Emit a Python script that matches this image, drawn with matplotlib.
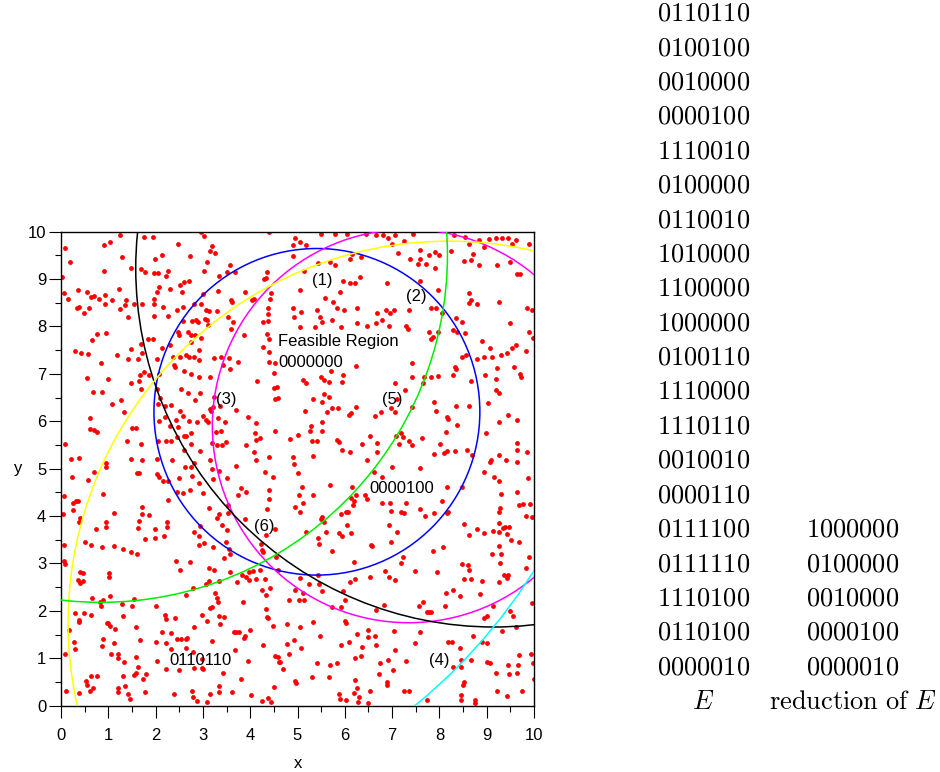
import matplotlib.pyplot as plt
from matplotlib.patches import Circle
from matplotlib.ticker import MultipleLocator

plt.rcParams['font.family'] = ['Liberation Sans', 'DejaVu Sans']
plt.rcParams['mathtext.fontset'] = 'cm'

# random sample points
dots_nw = [
    (1.24, 9.93), (1.75, 9.88), (1.94, 9.88), (2.96, 9.99), (3.02, 9.91), (4.40, 9.99), (0.08, 9.66), (0.90, 9.71), (1.04, 9.79), (2.47, 9.74),
    (3.20, 9.70), (3.16, 9.59), (3.25, 9.56), (2.13, 9.51), (1.99, 9.42), (1.30, 9.46), (2.73, 9.49), (0.18, 9.35), (3.08, 9.35), (0.03, 9.04),
    (0.91, 9.16), (1.49, 9.23), (1.70, 9.21), (1.78, 9.15), (1.96, 9.12), (2.06, 9.12), (2.27, 9.18), (2.23, 9.06), (3.02, 9.16), (3.35, 9.06),
    (3.50, 9.14), (3.68, 9.14), (3.57, 9.30), (2.51, 8.87), (2.61, 8.93), (2.70, 8.96), (2.08, 8.84), (2.02, 8.73), (2.30, 8.80), (2.56, 8.73),
    (0.35, 8.76), (0.56, 8.73), (0.64, 8.62), (0.06, 8.70), (1.23, 8.79), (0.14, 8.59), (3.01, 8.68), (3.32, 8.75), (3.89, 8.73), (0.70, 8.65),
    (0.81, 8.59), (0.93, 8.66), (1.08, 8.56), (1.37, 8.56), (1.35, 8.46), (1.54, 8.47), (1.72, 8.47), (1.97, 8.58), (1.96, 8.48), (2.16, 8.42),
    (0.34, 8.40), (0.38, 8.41), (0.49, 8.28), (0.60, 8.38), (0.94, 8.47), (1.25, 8.37), (2.58, 8.42), (2.82, 8.48), (2.96, 8.47), (3.06, 8.34),
    (3.13, 8.33), (3.29, 8.33), (3.60, 8.55), (3.62, 8.51), (4.04, 8.56), (4.09, 8.57), (1.41, 8.20), (1.96, 8.23), (2.27, 8.23), (2.45, 8.35),
    (2.77, 8.12), (2.86, 8.14), (2.89, 8.09), (3.04, 8.16), (3.08, 8.14), (3.11, 8.03), (3.54, 8.21), (3.63, 8.09), (3.59, 7.95), (2.58, 8.11),
    (2.47, 7.89), (0.76, 7.84), (0.96, 7.86), (0.65, 7.71), (1.83, 7.73), (1.94, 7.74), (2.14, 7.55), (2.31, 7.61), (2.49, 7.83), (2.69, 7.89),
    (2.75, 7.82), (2.83, 7.83), (2.74, 7.67), (2.96, 7.76), (3.87, 7.81), (0.29, 7.48), (0.43, 7.45), (0.57, 7.42), (1.49, 7.53), (1.70, 7.62),
    (1.19, 7.39), (1.41, 7.31), (1.63, 7.31), (2.02, 7.31), (1.71, 7.45), (2.37, 7.36), (2.51, 7.35), (2.70, 7.35), (2.82, 7.35), (2.92, 7.29),
    (2.91, 7.50), (2.65, 7.39), (3.38, 7.36), (3.24, 7.34), (3.55, 7.33), (3.75, 7.26), (0.84, 7.22), (0.56, 6.92), (1.85, 6.98), (1.66, 6.97),
    (1.65, 6.86), (1.75, 7.05), (2.08, 6.99), (2.38, 7.19), (2.40, 7.14), (2.60, 7.07), (2.75, 7.00), (2.91, 6.94), (3.15, 6.94), (3.43, 7.19),
    (3.57, 7.11), (0.99, 6.89), (1.49, 6.81), (0.68, 6.61), (0.86, 6.61), (1.08, 6.37), (1.27, 6.44), (1.70, 6.69), (2.02, 6.68), (2.09, 6.49),
    (2.19, 6.32), (2.32, 6.34), (2.54, 6.68), (2.68, 6.60), (2.84, 6.45), (2.94, 6.59), (3.24, 6.52), (3.22, 6.31), (3.37, 6.32), (3.70, 6.24),
    (0.61, 6.06), (0.61, 5.84), (0.70, 5.82), (0.77, 5.77), (1.33, 6.20), (1.51, 5.85), (1.58, 5.86), (2.06, 6.37), (2.07, 6.01), (2.20, 6.10),
    (2.30, 5.90), (2.44, 6.03), (2.48, 5.88), (2.51, 6.21), (2.57, 6.11), (2.70, 6.00), (2.64, 5.68), (2.75, 5.75), (2.87, 5.98), (3.01, 6.11),
    (3.06, 6.03), (3.11, 5.98), (3.16, 6.25), (3.18, 6.21), (3.28, 5.77), (3.39, 5.80), (3.46, 5.98), (3.32, 6.06), (0.09, 5.52), (1.40, 5.58),
    (1.69, 5.52), (2.05, 5.58), (2.21, 5.58), (2.33, 5.58), (2.46, 5.66), (2.60, 5.70), (2.75, 5.53), (2.94, 5.38), (3.19, 5.54), (3.29, 5.49),
    (3.40, 5.50), (3.48, 5.56), (0.22, 5.20), (0.37, 5.23), (0.96, 5.12), (1.49, 5.21), (1.72, 5.18), (2.04, 5.21), (2.35, 5.19), (2.61, 5.39),
    (2.63, 5.03), (2.75, 5.04), (2.82, 5.13), (3.16, 5.18), (3.19, 5.00), (3.33, 4.96), (3.50, 4.80), (3.69, 5.06), (0.23, 4.82), (0.58, 4.76),
    (0.70, 4.94), (0.95, 5.03), (1.60, 4.90), (1.65, 4.91), (2.03, 4.88), (2.07, 4.82), (2.15, 4.75), (2.27, 4.73), (2.50, 4.80), (2.76, 4.85),
    (3.21, 4.79), (2.92, 4.69), (4.35, 9.14), (4.34, 9.02), (4.29, 9.00), (4.44, 8.71), (4.37, 8.39), (4.42, 8.58), (4.37, 8.27), (4.38, 8.11),
    (4.26, 8.09), (4.35, 7.84), (4.39, 7.74), (4.28, 7.57), (4.40, 7.46), (4.39, 7.25), (4.53, 7.24), (4.50, 7.01), (4.56, 6.73), (4.51, 6.70),
    (4.58, 6.50), (4.53, 6.47), (4.52, 5.80), (4.40, 5.24), (4.31, 4.92), (4.49, 4.83), (4.15, 6.84), (3.96, 6.10), (4.12, 5.96), (4.13, 5.60),
    (4.21, 5.64), (4.11, 5.76), (4.07, 5.35), (4.13, 5.18), (3.92, 5.49), (3.81, 4.59),
]

dots_ne = [
    (4.95, 9.86), (4.91, 9.72), (5.05, 9.79), (5.18, 9.72), (5.50, 9.95), (5.80, 9.95), (6.05, 9.95), (6.44, 9.95), (6.65, 9.92), (6.81, 9.92),
    (6.91, 9.86), (7.06, 9.93), (6.99, 9.74), (7.12, 9.54), (7.25, 9.81), (7.45, 9.96), (7.59, 9.61), (7.79, 9.51), (7.90, 9.58), (8.00, 9.51),
    (8.25, 9.60), (8.30, 9.93), (8.55, 9.88), (8.63, 9.74), (8.70, 9.53), (8.84, 9.82), (8.94, 9.68), (9.04, 9.85), (9.20, 9.86), (9.33, 9.86),
    (9.46, 9.86), (9.61, 9.82), (9.54, 9.74), (9.89, 9.74), (9.65, 9.11), (9.70, 9.11), (4.91, 9.49), (5.14, 9.16), (5.44, 9.33), (5.69, 9.37),
    (5.79, 9.30), (6.15, 9.53), (6.10, 9.42), (6.35, 9.46), (6.32, 9.05), (7.37, 9.42), (7.54, 9.31), (7.60, 9.42), (7.71, 9.31), (7.91, 9.23),
    (8.52, 9.39), (8.67, 9.40), (8.84, 9.30), (9.21, 9.30), (9.49, 9.35), (5.96, 8.97), (5.90, 8.73), (6.12, 8.91), (6.22, 8.91), (6.89, 8.91),
    (7.59, 8.95), (7.98, 8.77), (8.63, 8.71), (5.05, 8.77), (5.59, 8.61), (5.75, 8.52), (5.83, 8.40), (5.99, 8.35), (6.25, 8.38), (4.90, 8.40),
    (5.07, 8.31), (5.41, 8.35), (5.48, 8.21), (4.93, 8.19), (6.67, 8.29), (6.88, 8.35), (6.96, 8.29), (7.05, 8.35), (6.78, 8.14), (7.36, 8.35),
    (7.82, 8.38), (7.92, 8.38), (8.06, 8.28), (8.67, 8.56), (8.79, 8.47), (8.63, 8.49), (9.27, 8.52), (9.86, 8.40), (9.96, 8.35), (8.36, 8.17),
    (8.48, 8.10), (5.05, 7.98), (5.38, 7.99), (5.51, 8.09), (5.72, 8.14), (5.93, 7.98), (6.25, 8.07), (6.46, 8.02), (6.66, 8.07), (6.93, 8.01),
    (7.29, 8.00), (7.33, 7.95), (7.77, 7.89), (7.97, 7.89), (7.82, 7.74), (7.87, 7.77), (8.28, 7.93), (8.37, 7.88), (8.55, 7.86), (9.49, 8.07),
    (9.90, 7.89), (9.98, 7.76), (8.89, 7.70), (9.08, 7.54), (9.61, 7.61), (9.53, 7.55), (9.42, 7.43), (9.84, 7.48), (8.47, 7.36), (8.56, 7.40),
    (8.79, 7.31), (8.94, 7.36), (9.12, 7.36), (9.30, 7.40), (9.22, 7.12), (8.96, 6.97), (9.19, 6.90), (9.58, 7.15), (9.70, 6.99), (9.73, 6.93),
    (8.66, 6.86), (8.34, 7.15), (8.36, 7.10), (8.29, 6.98), (7.98, 6.96), (7.82, 6.94), (7.67, 6.94), (7.65, 6.81), (7.43, 7.24), (7.42, 6.93),
    (7.06, 6.80), (6.24, 7.17), (5.70, 7.07), (5.50, 6.93), (5.12, 6.87), (5.17, 6.81), (5.57, 6.88), (5.66, 6.83), (5.96, 6.98), (5.95, 6.82),
    (5.55, 6.58), (5.67, 6.52), (5.51, 6.40), (5.33, 6.46), (5.72, 6.27), (5.85, 6.27), (5.62, 6.20), (5.16, 6.22), (6.24, 6.31), (6.13, 6.17),
    (6.08, 6.13), (6.63, 6.11), (6.76, 6.20), (6.97, 6.27), (7.06, 6.20), (7.11, 6.46), (7.27, 6.65), (7.43, 6.31), (7.89, 6.41), (7.92, 6.22),
    (8.36, 6.32), (8.17, 6.08), (8.19, 6.05), (8.63, 6.32), (9.03, 6.39), (9.20, 6.66), (9.27, 6.60), (9.44, 6.13), (9.63, 6.03), (9.25, 5.99),
    (8.98, 5.75), (5.28, 5.90), (5.27, 5.80), (5.52, 5.99), (5.52, 5.80), (5.00, 5.72), (4.84, 5.62), (5.30, 5.58), (5.41, 5.58), (5.84, 5.60),
    (5.88, 5.57), (5.95, 5.39), (6.10, 5.36), (6.37, 5.53), (6.54, 5.69), (6.69, 5.55), (6.69, 5.36), (7.08, 5.69), (7.15, 5.52), (7.18, 5.76),
    (7.23, 5.66), (7.35, 5.58), (7.43, 5.49), (7.63, 5.65), (8.02, 5.52), (7.89, 5.32), (8.10, 5.33), (8.15, 5.38), (8.34, 5.38), (8.38, 5.92),
    (8.13, 5.77), (8.58, 5.39), (8.68, 5.29), (9.06, 5.15), (9.25, 5.29), (9.10, 5.18), (9.41, 5.18), (9.63, 5.55), (9.65, 5.39), (9.65, 5.15),
    (9.86, 5.36), (4.93, 5.10), (4.91, 5.25), (5.33, 5.27), (5.00, 4.90), (5.10, 4.62), (5.69, 4.66), (6.16, 4.62), (6.47, 5.18), (6.61, 4.93),
    (6.78, 4.83), (7.00, 5.04), (7.58, 5.01), (8.16, 4.62), (8.47, 4.62), (8.94, 4.94), (9.15, 4.83), (9.27, 4.73), (9.87, 4.80),
]

dots_sw = [
    (0.06, 4.43), (0.04, 4.04), (0.26, 4.28), (0.31, 4.32), (0.36, 4.32), (0.26, 4.12), (0.40, 3.97), (0.39, 3.87), (0.88, 4.47), (1.72, 4.20),
    (1.72, 4.04), (1.86, 4.03), (1.13, 4.06), (0.96, 3.87), (0.96, 3.76), (0.75, 3.72), (0.86, 3.34), (0.51, 3.45), (0.63, 3.39), (0.07, 3.38),
    (0.06, 3.06), (0.08, 2.98), (0.35, 2.65), (0.40, 2.58), (0.41, 2.82), (0.46, 2.79), (0.46, 2.62), (0.66, 2.27), (0.83, 2.19), (1.01, 2.79),
    (1.01, 2.72), (1.04, 2.31), (1.13, 3.37), (1.32, 3.31), (1.48, 3.25), (1.60, 3.20), (1.50, 2.10), (1.54, 2.26), (1.63, 3.74), (1.64, 3.90),
    (1.77, 3.52), (1.99, 3.73), (1.99, 3.53), (2.17, 3.57), (2.25, 3.76), (2.25, 3.87), (2.27, 4.34), (2.46, 4.51), (2.57, 4.49), (2.73, 4.55),
    (3.00, 4.49), (3.13, 4.18), (3.34, 4.04), (3.53, 4.06), (3.52, 4.23), (3.75, 4.45), (3.89, 3.93), (3.92, 4.51), (4.39, 4.55), (4.39, 4.37),
    (4.35, 4.14), (4.52, 3.73), (4.34, 3.61), (4.23, 3.42), (4.25, 3.28), (4.21, 2.86), (4.32, 2.67), (4.25, 2.44), (3.97, 2.81), (3.92, 2.71),
    (3.85, 2.19), (3.73, 2.60), (3.56, 3.30), (3.57, 3.19), (3.51, 3.71), (3.40, 3.81), (3.29, 3.95), (3.22, 3.35), (3.03, 3.43), (2.91, 3.59),
    (2.92, 3.38), (2.82, 3.67), (2.94, 3.80), (2.73, 3.04), (2.44, 3.06), (2.51, 2.86), (2.65, 2.33), (2.78, 2.48), (3.13, 2.90), (3.23, 2.87),
    (3.12, 2.64), (3.06, 2.56), (3.25, 2.37), (3.35, 2.64), (3.44, 3.11), (3.48, 3.46), (3.58, 2.81), (3.82, 2.76), (3.98, 2.65), (4.05, 2.85),
    (4.13, 2.67), (4.28, 3.25), (4.58, 2.86), (4.55, 3.13), (4.42, 2.48), (4.33, 2.33), (0.89, 2.23), (0.85, 2.10), (0.30, 1.95), (0.37, 1.80),
    (0.37, 1.77), (0.49, 1.95), (0.63, 1.91), (0.99, 1.74), (1.04, 1.69), (1.15, 1.61), (1.29, 2.15), (1.32, 1.89), (2.20, 1.91), (2.23, 1.82),
    (2.41, 1.84), (2.01, 2.11), (1.59, 1.67), (2.13, 1.56), (2.32, 1.54), (2.54, 1.41), (2.66, 1.42), (2.82, 1.67), (2.98, 1.91), (3.08, 1.79),
    (3.16, 2.06), (3.20, 2.09), (3.30, 2.28), (3.31, 2.19), (3.35, 1.89), (3.36, 1.72), (3.45, 1.88), (3.71, 1.55), (3.77, 1.56), (3.89, 1.46),
    (3.87, 1.42), (3.95, 0.94), (3.99, 1.60), (4.27, 1.27), (4.33, 2.03), (4.35, 1.87), (4.37, 1.84), (4.49, 1.69), (4.59, 1.03), (4.61, 0.92),
    (4.70, 0.77), (4.77, 1.72), (0.09, 1.08), (0.17, 1.59), (0.27, 1.34), (0.30, 1.19), (0.11, 0.32), (0.37, 0.27), (0.53, 0.52), (0.56, 0.44),
    (0.68, 0.37), (0.61, 0.30), (0.64, 0.63), (0.76, 0.63), (0.87, 1.26), (0.89, 1.41), (0.97, 1.75), (1.13, 1.33), (1.05, 1.10), (1.21, 1.10),
    (1.20, 1.00), (1.20, 0.37), (1.20, 0.28), (1.33, 0.93), (1.32, 0.63), (1.35, 0.41), (1.42, 0.24), (1.46, 0.15), (1.54, 0.64), (1.58, 0.70),
    (1.59, 1.02), (1.63, 0.82), (1.66, 1.39), (1.74, 0.56), (1.77, 0.28), (1.79, 0.66), (2.02, 0.94), (2.00, 1.35), (2.21, 1.33), (2.22, 0.77),
    (2.32, 1.20), (2.38, 0.24), (2.49, 0.75), (2.46, 1.40), (2.64, 1.40), (2.65, 1.21), (2.78, 1.14), (2.82, 0.79), (2.77, 0.32), (2.78, 0.18),
    (2.87, 0.10), (2.98, 0.98), (2.99, 0.80), (3.01, 0.77), (3.08, 0.08), (3.14, 0.25), (3.20, 1.36), (3.33, 0.41), (3.34, 0.28), (3.42, 0.69),
    (3.61, 0.29), (3.65, 1.56), (3.68, 1.18), (3.80, 0.56), (4.02, 0.23), (4.25, 0.09), (4.37, 0.17), (4.43, 0.08), (4.51, 0.40), (4.52, 1.05),
    (4.64, 0.93), (4.78, 1.31),
]

dots_se = [
    (5.04, 4.44), (5.32, 4.44), (5.12, 4.28), (4.94, 4.20), (5.05, 4.09), (6.23, 4.44), (6.14, 4.39), (6.17, 4.23), (6.19, 4.32), (6.43, 4.44),
    (6.47, 4.35), (6.03, 4.09), (6.07, 4.09), (5.93, 4.04), (6.05, 3.81), (6.13, 3.64), (5.87, 3.64), (5.95, 3.57), (5.60, 3.67), (5.43, 3.53),
    (5.45, 3.42), (5.17, 3.66), (5.52, 3.99), (5.50, 3.93), (5.56, 3.88), (5.72, 3.27), (5.44, 2.76), (5.46, 2.57), (5.52, 2.42), (5.24, 2.56),
    (5.11, 2.37), (5.05, 2.70), (4.95, 2.44), (4.81, 2.23), (5.03, 2.22), (5.14, 2.22), (5.72, 2.09), (5.91, 2.09), (6.01, 2.23), (6.12, 2.60),
    (6.22, 2.67), (5.97, 2.41), (6.19, 3.04), (6.53, 2.71), (6.56, 3.40), (6.57, 3.36), (6.79, 4.28), (6.95, 4.27), (6.98, 4.10), (7.18, 4.09),
    (7.29, 4.27), (7.26, 4.07), (6.94, 3.81), (6.98, 3.45), (7.10, 3.67), (7.18, 3.00), (7.24, 3.13), (6.85, 2.85), (6.93, 2.72), (7.06, 2.65),
    (6.65, 2.02), (6.82, 2.12), (7.03, 1.58), (7.48, 2.85), (7.56, 2.11), (7.65, 2.19), (7.73, 1.98), (7.79, 1.98), (7.83, 1.98), (7.60, 4.14),
    (7.70, 4.01), (7.89, 4.07), (8.05, 4.31), (8.15, 4.06), (8.19, 4.09), (8.07, 3.35), (7.86, 3.26), (7.95, 2.83), (8.13, 2.38), (8.12, 2.10),
    (8.29, 2.45), (8.44, 2.31), (8.48, 2.98), (8.60, 2.97), (8.63, 2.86), (8.67, 2.67), (8.53, 2.67), (8.86, 2.36), (8.89, 2.62), (8.79, 3.73),
    (8.63, 3.61), (8.52, 3.83), (8.94, 3.64), (9.14, 3.69), (9.25, 3.86), (9.27, 4.09), (9.28, 4.16), (9.31, 4.47), (9.63, 4.51), (9.69, 4.23),
    (9.77, 4.25), (9.91, 4.25), (9.84, 4.00), (9.95, 3.99), (9.89, 3.13), (9.83, 2.90), (9.96, 2.16), (9.43, 3.62), (9.52, 3.50), (9.68, 3.45),
    (9.34, 3.74), (9.38, 3.76), (9.48, 3.76), (9.25, 3.67), (9.25, 3.37), (9.11, 3.20), (9.30, 3.20), (9.29, 3.00), (9.27, 2.61), (9.37, 2.76),
    (9.46, 2.76), (9.42, 2.69), (9.49, 2.00), (9.56, 1.89), (9.61, 1.67), (9.32, 1.58), (9.13, 2.10), (8.95, 1.84), (9.00, 1.89), (8.91, 1.34),
    (8.72, 1.46), (8.66, 0.96), (8.46, 0.96), (8.44, 1.21), (8.27, 1.35), (8.18, 1.34), (7.48, 1.33), (7.58, 1.56), (7.29, 0.94), (7.06, 1.17),
    (6.91, 0.96), (6.74, 0.91), (6.66, 1.28), (6.64, 1.46), (6.48, 1.60), (6.48, 1.44), (6.36, 1.24), (6.35, 1.05), (6.26, 1.51), (6.09, 1.35),
    (5.92, 1.27), (6.01, 1.79), (6.03, 1.74), (6.21, 1.00), (6.22, 0.54), (6.25, 0.37), (6.19, 0.26), (6.28, 0.08), (6.29, 0.19), (6.48, 0.06),
    (6.53, 0.32), (6.73, 0.67), (6.89, 0.50), (6.90, 0.44), (7.01, 0.76), (7.25, 0.30), (7.36, 0.32), (7.73, 0.11), (8.29, 0.81), (8.45, 0.81),
    (8.49, 0.44), (8.53, 0.51), (8.46, 0.23), (8.45, 0.13), (8.76, 0.12), (8.75, 0.05), (9.00, 0.92), (9.06, 0.89), (9.19, 0.70), (9.22, 0.32),
    (9.42, 0.21), (9.46, 0.86), (9.48, 0.67), (9.65, 0.68), (9.67, 0.86), (9.68, 1.07), (9.94, 1.09), (9.97, 0.91), (9.99, 0.57), (9.74, 0.32),
    (5.69, 0.86), (5.67, 0.61), (5.31, 0.61), (5.41, 0.91), (4.94, 0.52), (4.96, 0.47), (4.81, 1.10), (5.07, 1.21), (4.93, 1.39), (5.05, 1.67),
    (5.33, 1.77), (5.48, 1.47), (5.87, 0.25), (5.90, 0.15), (6.02, 0.12), (5.83, 0.91), (9.01, 1.33),
]

# constraint circles: centre x, centre y, radius
circle_cx = [5.41, 7.35, 9.15, 8.20, 0.84, 0.00]
circle_cy = [6.20, 5.90, 9.23, 1.75, 9.51, 9.15]
circle_r = [3.445, 4.15, 7.57, 8.05, 7.33, 11.82]
circle_colors = ['blue', 'magenta', 'black', 'yellow', '#00ee00', 'cyan']

# text inside the plot
region_text = ['(1)', '(2)', '(3)', '(4)', '(5)', '(6)',
               'Feasible Region', '0000000', '0000100', '0110110']
region_x = [5.30, 7.29, 3.27, 7.78, 6.78, 4.09, 4.59, 4.59, 6.51, 2.29]
region_y = [8.96, 8.64, 6.45, 0.96, 6.45, 3.78, 7.69, 7.23, 4.59, 0.96]

# table on the right
codes_e = ['0110110', '0100100', '0010000', '0000100', '1110010',
           '0100000', '0110010', '1010000', '1100000', '1000000',
           '0100110', '1110000', '1110110', '0010010', '0000110',
           '0111100', '0111110', '1110100', '0110100', '0000010']
codes_reduced = ['1000000', '0100000', '0010000', '0000100', '0000010']

fig = plt.figure(figsize=(9.4, 7.72), dpi=100)
ax = fig.add_axes([0.0649, 0.0859, 0.5032, 0.614])

for pts in (dots_nw, dots_ne, dots_sw, dots_se):
    xs, ys = zip(*pts)
    ax.scatter(xs, ys, s=12, c='red', linewidths=0, zorder=2)

for cx, cy, r, col in zip(circle_cx, circle_cy, circle_r, circle_colors):
    ax.add_patch(Circle((cx, cy), r, fill=False, ec=col, lw=1.1, zorder=3))

for t, x, y in zip(region_text, region_x, region_y):
    ax.text(x, y, t, fontsize=12, ha='left', va='center', zorder=4)

ax.set_xlim(0, 10)
ax.set_ylim(0, 10)
ax.xaxis.set_major_locator(MultipleLocator(1))
ax.yaxis.set_major_locator(MultipleLocator(1))
ax.xaxis.set_minor_locator(MultipleLocator(0.5))
ax.yaxis.set_minor_locator(MultipleLocator(0.5))
ax.tick_params(which='both', direction='out', top=False, right=False, width=0.8)
ax.tick_params(which='major', length=8.6, labelsize=12)
ax.tick_params(axis='x', which='major', pad=7.5)
ax.tick_params(axis='y', which='major', pad=2)
ax.tick_params(which='minor', length=4.3)
for sp in ax.spines.values():
    sp.set_linewidth(1.0)
ax.set_xlabel('x', fontsize=12, labelpad=9)
ax.set_ylabel('y', fontsize=12, labelpad=7, rotation=0, va='center')

# right hand table of codes
col1_x = 703.5 / 940
col2_x = 853.0 / 940
n_rows = len(codes_e)
for i, code in enumerate(codes_e):
    fig.text(col1_x, 1 - (20.6 + 34.4 * i) / 772, r'$\mathrm{%s}$' % code,
             fontsize=19, ha='center', va='baseline')
for j, code in enumerate(codes_reduced):
    i = n_rows - len(codes_reduced) + j
    fig.text(col2_x, 1 - (20.6 + 34.4 * i) / 772, r'$\mathrm{%s}$' % code,
             fontsize=19, ha='center', va='baseline')
fig.text(col1_x, 1 - (20.6 + 34.4 * n_rows) / 772, r'$E$',
         fontsize=19, ha='center', va='baseline')
fig.text(col2_x, 1 - (20.6 + 34.4 * n_rows) / 772, r'$\mathrm{reduction\ of}\ E$',
         fontsize=19, ha='center', va='baseline')

fig.savefig('out.png', dpi=100)
